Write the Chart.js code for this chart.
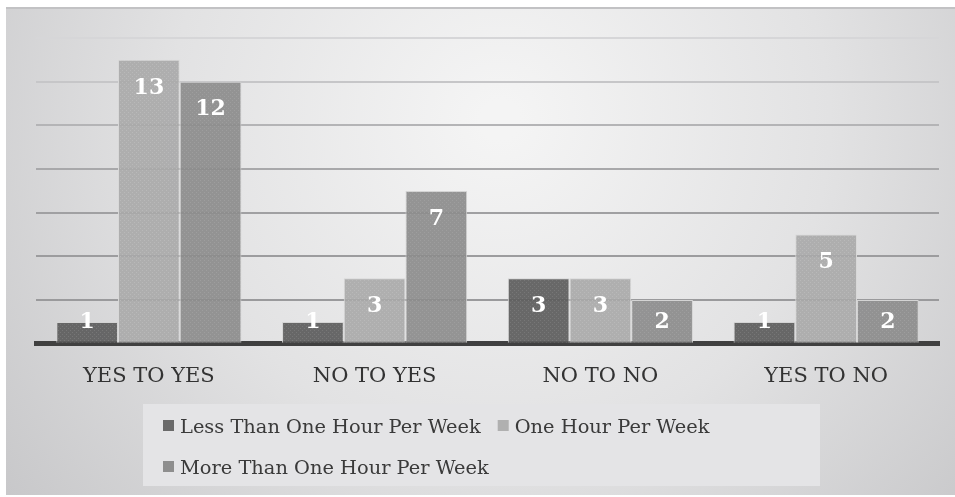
<!DOCTYPE html>
<html>
<head>
<meta charset="utf-8">
<script src="https://cdn.jsdelivr.net/npm/chart.js@4.4.1/dist/chart.umd.min.js"></script>
<style>
  html, body { margin: 0; padding: 0; background: #fff; }
  #wrap { width: 955px; height: 497px; position: relative; }
</style>
</head>
<body>
<div id="wrap"><canvas id="timeChart"></canvas></div>
<script>
// chart data
const categories = ['YES TO YES', 'NO TO YES', 'NO TO NO', 'YES TO NO'];
const seriesNames = ['Less Than One Hour Per Week', 'One Hour Per Week', 'More Than One Hour Per Week'];
const lessThanOne = [1, 1, 3, 1];
const oneHour = [13, 3, 3, 5];
const moreThanOne = [12, 7, 2, 2];
const yTicks = [0, 2, 4, 6, 8, 10, 12, 14];

const serif = "'DejaVu Serif', serif";

// little dotted fill like the original
function makePattern(base, dot) {
  const c = document.createElement('canvas');
  c.width = 4; c.height = 4;
  const g = c.getContext('2d');
  g.fillStyle = base;
  g.fillRect(0, 0, 4, 4);
  g.fillStyle = dot;
  g.fillRect(0, 0, 1, 1);
  g.fillRect(2, 2, 1, 1);
  return g.createPattern(c, 'repeat');
}

const fills = [
  makePattern('rgba(94,94,94,0.93)', 'rgba(120,120,120,0.93)'),
  makePattern('rgba(168,168,168,0.9)', 'rgba(186,186,186,0.9)'),
  makePattern('rgba(140,140,140,0.92)', 'rgba(160,160,160,0.92)')
];
const swatch = ['#6a6a6a', '#b0b0b0', '#8e8e8e'];

// grey panel behind the chart
const panelBg = {
  id: 'panelBg',
  beforeDraw(chart) {
    const ctx = chart.ctx;
    ctx.save();
    const g = ctx.createRadialGradient(500, 120, 20, 500, 120, 640);
    g.addColorStop(0, '#f4f4f4');
    g.addColorStop(0.5, '#e2e2e3');
    g.addColorStop(1, '#c6c6c8');
    ctx.fillStyle = g;
    ctx.fillRect(6, 8, 949, 487);
    ctx.fillStyle = '#c2c2c4';
    ctx.fillRect(6, 7, 949, 2);
    ctx.restore();
  }
};

// value labels inside the bars
const barLabels = {
  id: 'barLabels',
  afterDatasetsDraw(chart) {
    const ctx = chart.ctx;
    ctx.save();
    ctx.font = 'bold 22px ' + serif;
    ctx.fillStyle = '#ffffff';
    ctx.textAlign = 'center';
    ctx.textBaseline = 'middle';
    chart.data.datasets.forEach((ds, i) => {
      chart.getDatasetMeta(i).data.forEach((bar, j) => {
        const y = Math.min(bar.y + 28, bar.base - 21);
        ctx.fillText(ds.data[j], bar.x, y);
      });
    });
    ctx.restore();
  }
};

// legend box under the axis
const boxLegend = {
  id: 'boxLegend',
  afterDraw(chart) {
    const ctx = chart.ctx;
    ctx.save();
    ctx.fillStyle = '#e4e4e6';
    ctx.fillRect(143, 404, 677, 82);
    ctx.font = '19.4px ' + serif;
    ctx.textBaseline = 'alphabetic';
    let x = 163, y = 433;
    chart.data.datasets.forEach((ds, i) => {
      const w = ctx.measureText(ds.label).width;
      if (x + 17 + w > 810) { x = 163; y += 41; }
      ctx.fillStyle = swatch[i];
      ctx.fillRect(x, y - 13, 11, 11);
      ctx.fillStyle = '#3a3a3a';
      ctx.fillText(ds.label, x + 17, y);
      x += 17 + w + 17;
    });
    ctx.restore();
  }
};

const gridColors = { 14: '#d6d6d8', 12: '#c6c6c8', 10: '#b4b4b6', 8: '#a8a8aa', 6: '#a0a0a2', 4: '#9c9c9e', 2: '#9a9a9c', 0: 'rgba(0,0,0,0)' };

const ctx = document.getElementById('timeChart').getContext('2d');
new Chart(ctx, {
  type: 'bar',
  data: {
    labels: categories,
    datasets: [
      { label: seriesNames[0], data: lessThanOne, backgroundColor: fills[0], borderColor: '#d4d4d4', borderWidth: 1 },
      { label: seriesNames[1], data: oneHour, backgroundColor: fills[1], borderColor: '#d8d8d8', borderWidth: 1 },
      { label: seriesNames[2], data: moreThanOne, backgroundColor: fills[2], borderColor: '#d4d4d4', borderWidth: 1 }
    ]
  },
  options: {
    responsive: true,
    maintainAspectRatio: false,
    animation: false,
    layout: { padding: { top: 38, left: 36, right: 16, bottom: 88 } },
    datasets: { bar: { barPercentage: 1, categoryPercentage: 0.82 } },
    plugins: {
      legend: { display: false },
      tooltip: { enabled: false }
    },
    scales: {
      x: {
        z: 1,
        grid: { display: false, drawTicks: false },
        border: { display: true, color: '#404040', width: 5 },
        ticks: { color: '#333333', padding: 20, font: { family: serif, size: 21 } }
      },
      y: {
        min: 0,
        max: 14,
        afterBuildTicks(scale) { scale.ticks = yTicks.map(v => ({ value: v })); },
        border: { display: false },
        grid: {
          drawTicks: false,
          lineWidth: 2,
          color: c => gridColors[c.tick.value]
        },
        ticks: { display: false }
      }
    }
  },
  plugins: [panelBg, barLabels, boxLegend]
});
</script>
</body>
</html>
